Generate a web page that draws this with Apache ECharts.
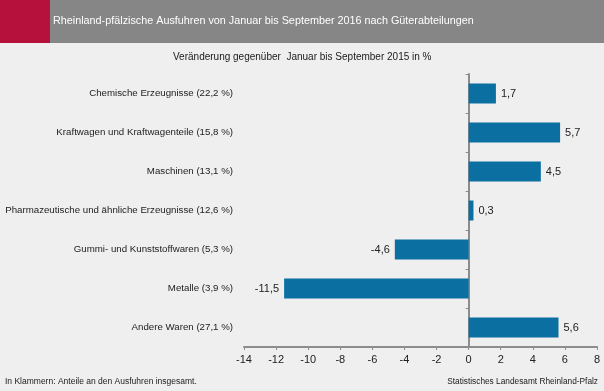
<!DOCTYPE html>
<html><head><meta charset="utf-8">
<script src="https://cdn.jsdelivr.net/npm/echarts@6/dist/echarts.min.js"></script>
<style>html,body{margin:0;padding:0;background:#efefef}#c{width:604px;height:391px}</style>
</head><body><div id="c"></div>
<script>
const categories = [
  "Chemische Erzeugnisse (22,2 %)",
  "Kraftwagen und Kraftwagenteile (15,8 %)",
  "Maschinen (13,1 %)",
  "Pharmazeutische und ähnliche Erzeugnisse (12,6 %)",
  "Gummi- und Kunststoffwaren (5,3 %)",
  "Metalle (3,9 %)",
  "Andere Waren (27,1 %)"
];
const changes = [1.7, 5.7, 4.5, 0.3, -4.6, -11.5, 5.6];
const axisMin = -14, axisMax = 8, axisStep = 2;
const titleText = "Rheinland-pfälzische Ausfuhren von Januar bis September 2016 nach Güterabteilungen";
const subtitleText = "Veränderung gegenüber  Januar bis September 2015 in %";
const noteText = "In Klammern: Anteile an den Ausfuhren insgesamt.";
const sourceText = "Statistisches Landesamt Rheinland-Pfalz";

const FONT = "Liberation Sans, Arial, sans-serif";
const chart = echarts.init(document.getElementById('c'));
const fmt = v => v.toFixed(1).replace('.', ',');
chart.setOption({
  backgroundColor: '#efefef',
  animation: false,
  graphic: [
    {type:'rect', shape:{x:0,y:0,width:50,height:43}, style:{fill:'#b5113c'}},
    {type:'rect', shape:{x:50,y:0,width:554,height:43}, style:{fill:'#868686'}},
    {type:'text', left:53, top:16, style:{text:titleText, fill:'#ffffff', font:'10.8px ' + FONT}},
    {type:'text', left:173, top:52, style:{text:subtitleText, fill:'#1a1a1a', font:'10px ' + FONT}},
    {type:'text', left:5, top:377, style:{text:noteText, fill:'#1a1a1a', font:'8.5px ' + FONT}},
    {type:'text', right:6, top:378, style:{text:sourceText, fill:'#1a1a1a', font:'8.3px ' + FONT}}
  ],
  grid: {left:244, right:7, top:74, bottom:44, containLabel:false, outerBoundsMode:'none'},
  xAxis: {
    type:'value', min:axisMin, max:axisMax, interval:axisStep,
    splitLine:{show:false},
    axisLine:{show:true, lineStyle:{color:'#8c8c8c', width:2}},
    axisTick:{show:true, length:3, lineStyle:{color:'#8c8c8c'}},
    axisLabel:{color:'#222', fontSize:11, fontFamily:FONT, margin:7}
  },
  yAxis: {
    type:'category', data:categories, inverse:true,
    position:'left',
    axisLine:{show:true, onZero:true, lineStyle:{color:'#8c8c8c', width:2}},
    axisTick:{show:true, length:3, lineStyle:{color:'#8c8c8c'}},
    axisLabel:{color:'#222', fontSize:9.7, fontFamily:FONT, margin:11}
  },
  series: [{
    type:'bar', barWidth:20,
    itemStyle:{color:'#0b6fa2'},
    data: changes.map(v => ({value:v, label:{position: v < 0 ? 'left' : 'right'}})),
    label:{show:true, color:'#222', fontSize:11, fontFamily:FONT, distance:5, formatter:p => fmt(p.value)}
  }]
});
</script></body></html>
